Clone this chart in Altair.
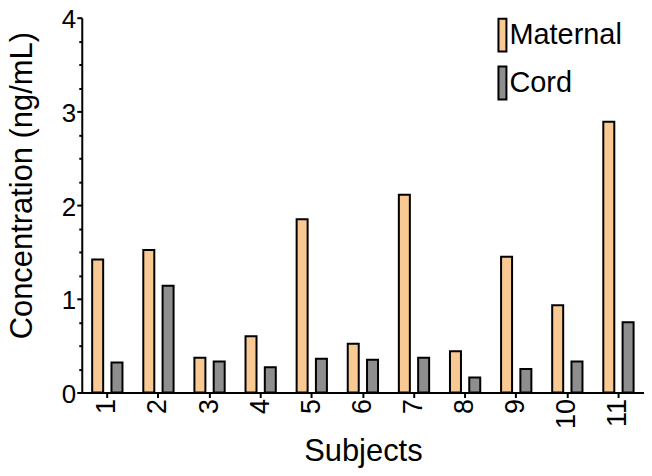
import altair as alt
import pandas as pd

subjects = ["1", "2", "3", "4", "5", "6", "7", "8", "9", "10", "11"]
maternal = [1.42, 1.52, 0.37, 0.60, 1.85, 0.52, 2.11, 0.44, 1.45, 0.93, 2.89]
cord = [0.32, 1.14, 0.33, 0.27, 0.36, 0.35, 0.37, 0.16, 0.25, 0.33, 0.75]
groups = ["Maternal", "Cord"]
colors = ["#F8C993", "#8E8E8E"]
y_ticks = [i * 0.25 for i in range(17)]

rows = []
for s, m, c in zip(subjects, maternal, cord):
    rows.append({"Subject": s, "Group": "Maternal", "Value": m})
    rows.append({"Subject": s, "Group": "Cord", "Value": c})
df = pd.DataFrame(rows)

FONT = "Liberation Sans"

chart = alt.Chart(df).mark_bar(stroke="black", strokeWidth=2).encode(
    x=alt.X("Subject:N", sort=subjects,
            scale=alt.Scale(paddingInner=0, paddingOuter=0),
            axis=alt.Axis(title="Subjects", labelAngle=270, labelFontSize=27,
                          labelPadding=1, tickSize=5, tickWidth=2,
                          titleFontSize=31, titleBaseline="alphabetic",
                          titleAlign="center", titleX=282, titleY=68)),
    xOffset=alt.XOffset("Group:N", sort=groups,
                        scale=alt.Scale(paddingInner=0.43, paddingOuter=0.54)),
    y=alt.Y("Value:Q", scale=alt.Scale(domain=[0, 4], nice=False),
            axis=alt.Axis(title="Concentration (ng/mL)", values=y_ticks,
                          labelExpr="datum.value % 1 === 0 ? format(datum.value, 'd') : ''",
                          labelFontSize=26, labelPadding=1, labelOffset=2, tickWidth=2,
                          tickSize={"condition": {"test": "datum.value % 1 === 0", "value": 5},
                                    "value": 3},
                          titleFontSize=31, titleAngle=270, titleBaseline="alphabetic",
                          titleAlign="center", titleX=-50, titleY=168)),
    color=alt.Color("Group:N", sort=groups,
                    scale=alt.Scale(domain=groups, range=colors),
                    legend=alt.Legend(title=None, orient="none", legendX=399, legendY=3,
                                      symbolType="M0.9,-3.3L2.5,-3.3L2.5,3.3L0.9,3.3Z",
                                      symbolSize=100, symbolStrokeColor="black",
                                      symbolStrokeWidth=2, symbolOpacity=1,
                                      labelFontSize=29, labelFont=FONT, labelColor="black",
                                      labelOffset=1, rowPadding=7, padding=0)),
).properties(
    width=564, height=376,
    autosize=alt.AutoSizeParams(type="none"),
    padding={"left": 74, "top": 9, "right": 0, "bottom": 75},
).configure_axis(
    labelFont=FONT, titleFont=FONT, labelColor="black", titleColor="black",
    titleFontWeight="normal", domainColor="black", domainWidth=2,
    tickColor="black", grid=False,
).configure_view(stroke=None)

chart.save("out.html", embed_options={"renderer": "svg", "actions": False})
